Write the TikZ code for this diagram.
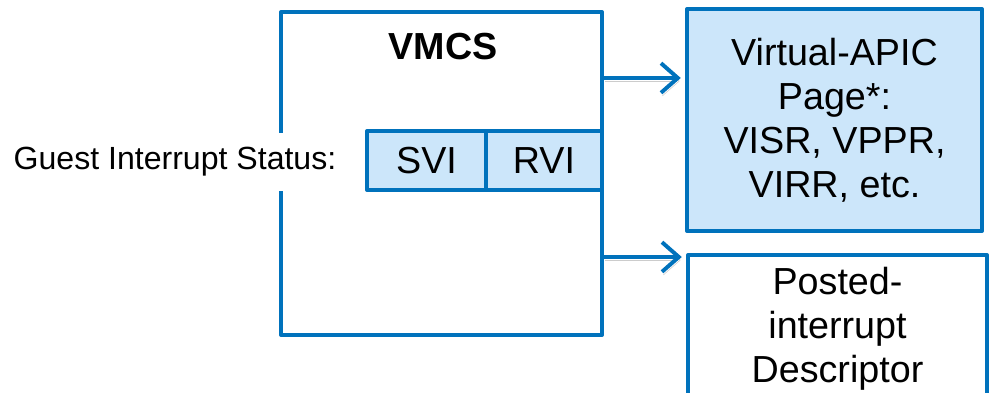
\documentclass[tikz,border=0pt]{standalone}
\usepackage{fontspec}
\setmainfont{Liberation Sans}
\usetikzlibrary{arrows.meta}
\definecolor{vmblue}{RGB}{0,114,188}
\definecolor{vmfill}{RGB}{204,230,250}

\begin{document}
\begin{tikzpicture}[x=0.025cm, y=-0.025cm,
    box/.style={draw=vmblue, line width=2.8pt, line join=round, rectangle, inner sep=0pt, align=center},
    bigtext/.style={font=\fontsize{26.8}{31.3}\selectfont},
    link/.style={draw=vmblue, line width=2.8pt, -{Straight Barb[length=4.2mm, width=7.4mm]},
      preaction={draw=black!20, transform canvas={shift={(1pt,-2.2pt)}}}}]
  \useasboundingbox (0,0) rectangle (992,393);
  \clip (0,0) rectangle (992,393);

  % VMCS
  \node[box, minimum width=8.025cm, minimum height=8.075cm] (vmcs) at (441.5,173.5) {};
  \node[bigtext, font=\fontsize{26.8}{31.3}\selectfont\bfseries] (vmcstitle) at (443,47) {VMCS};

  % guest interrupt status fields
  \node[fill=white, inner sep=2pt, minimum height=1.45cm, font=\fontsize{22.8}{27}\selectfont] (guest) at (175,162) {Guest Interrupt Status:};
  \node[box, bigtext, fill=vmfill, minimum width=2.975cm, minimum height=1.475cm] (svi) at (426.5,160.5) {SVI};
  \node[box, bigtext, fill=vmfill, minimum width=2.9cm, minimum height=1.475cm] (rvi) at (544,160.5) {RVI};

  % pages pointed to by the VMCS
  \node[box, bigtext, fill=vmfill, minimum width=7.375cm, minimum height=5.55cm] (vapic) at (834.5,120)
    {Virtual-APIC\\Page*:\\VISR, VPPR,\\VIRR, etc.};
  \node[box, bigtext, fill=white, minimum width=7.475cm, minimum height=3.7cm] (posted) at (837.5,329)
    {Posted-\\interrupt\\Descriptor};

  % arrows
  \coordinate (toapic) at (0,78);
  \coordinate (topid) at (0,257);
  \draw[link] (vmcs.east |- toapic) -- ([xshift=-3pt]vapic.west |- toapic);
  \draw[link] (vmcs.east |- topid) -- ([xshift=-3pt]posted.west |- topid);
\end{tikzpicture}
\end{document}
